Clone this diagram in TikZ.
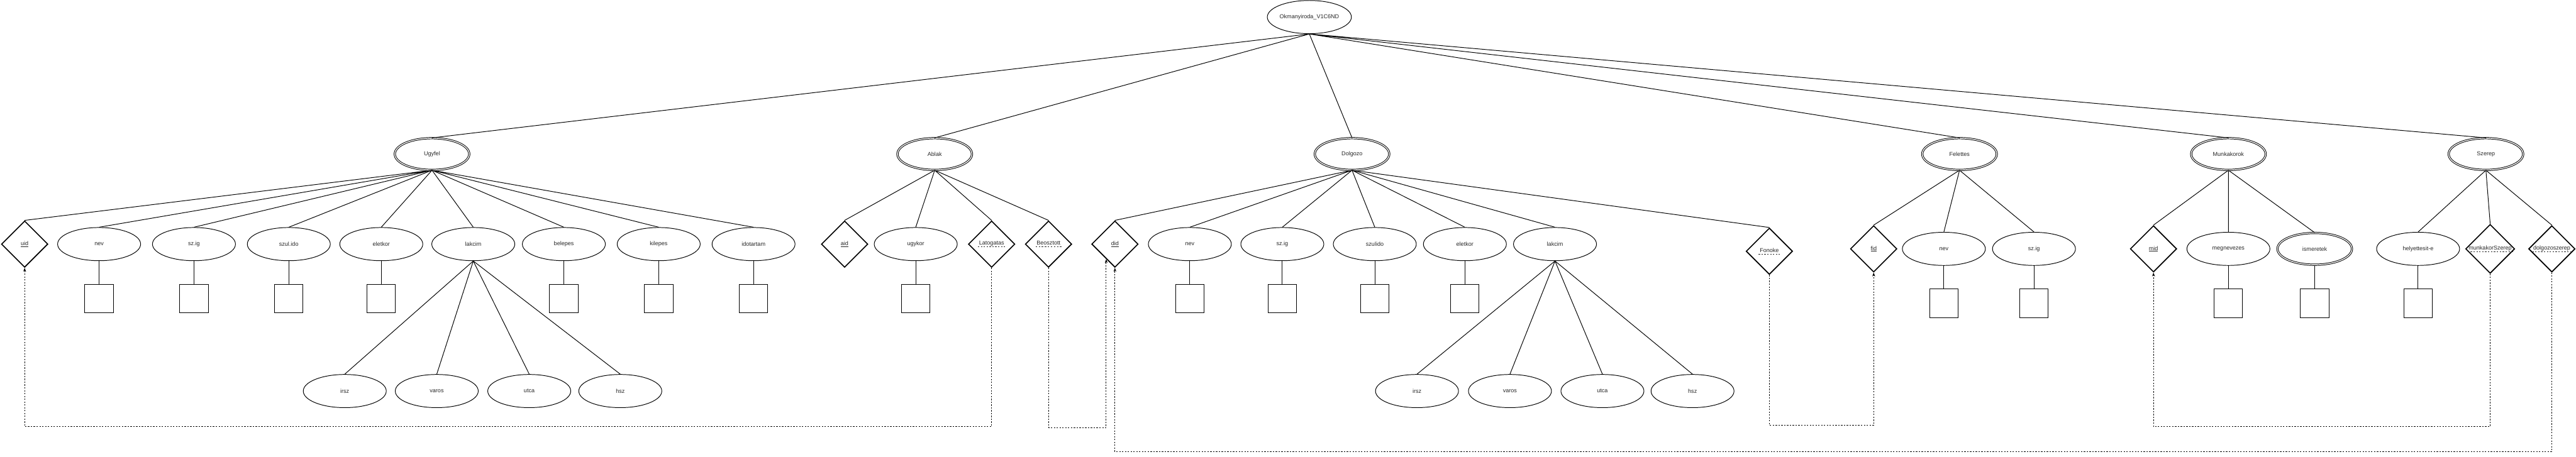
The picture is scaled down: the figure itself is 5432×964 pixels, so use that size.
\documentclass[tikz,border=0pt]{standalone}
\usepackage{fontspec}
\setmainfont{Liberation Sans}
\usetikzlibrary{shapes.geometric,arrows.meta}
\newcommand{\dashkey}[1]{\setbox0=\hbox{\hspace{4pt}#1\hspace{4pt}}\rlap{\raisebox{-4pt}{\hbox to \wd0{\xleaders\hbox to 6pt{\hss\rule{3pt}{1pt}\hss}\hfill}}}\box0}

\begin{document}
\begin{tikzpicture}[x=1pt, y=-1pt, line width=1.3pt,
	every node/.style={font=\fontsize{12pt}{14pt}\selectfont, text=black!85, inner sep=0pt},
	attr/.style={draw, ellipse, minimum width=175pt, minimum height=70pt},
	entity/.style={draw, ellipse, double, double distance=1.8pt, minimum width=157pt, minimum height=67pt},
	keyrel/.style={draw, diamond, line width=2.2pt, minimum width=98pt, minimum height=98pt, inner sep=-2pt},
	typebox/.style={draw, minimum width=60pt, minimum height=60pt},
	fk/.style={dash pattern=on 3pt off 3pt, -{Stealth[length=8pt,width=6pt]}}]
		\useasboundingbox (0,0) rectangle (5432,964);
		\node[attr] (root) at (2761,36) {Okmanyiroda\_V1C6ND};
		\node[entity] (ugyfel) at (911,325) {Ugyfel};
		\node[entity] (ablak) at (1971,325) {Ablak};
		\node[entity] (dolgozo) at (2851,325) {Dolgozo};
		\node[entity] (felettes) at (4132,325) {Felettes};
		\node[entity] (munkakor) at (4699,325) {Munkakorok};
		\node[entity] (szerep) at (5242,325) {Szerep};
		\draw (root.south) -- (ugyfel.north) (root.south) -- (ablak.north) (root.south) -- (dolgozo.north);
		\draw (root.south) -- (felettes.north) (root.south) -- (munkakor.north) (root.south) -- (szerep.north);
		\node[keyrel] (uid) at (52,515) {\underline{uid}};
		\node[attr] (unev) at (209,515) {nev};
		\node[attr] (uszig) at (409,515) {sz.ig};
		\node[attr] (uszul) at (609,515) {szul.ido};
		\node[attr] (ukor) at (804,515) {eletkor};
		\node[attr] (ulak) at (998,515) {lakcim};
		\node[attr] (ube) at (1189,515) {belepes};
		\node[attr] (uki) at (1389,515) {kilepes};
		\node[attr] (uido) at (1589,515) {idotartam};
		\draw (ugyfel.south) -- (uid.north) (ugyfel.south) -- (unev.north) (ugyfel.south) -- (uszig.north);
		\draw (ugyfel.south) -- (uszul.north) (ugyfel.south) -- (ukor.north) (ugyfel.south) -- (ulak.north);
		\draw (ugyfel.south) -- (ube.north) (ugyfel.south) -- (uki.north) (ugyfel.south) -- (uido.north);
		\node[typebox] (unevt) at (209,630) {};
		\node[typebox] (uszigt) at (409,630) {};
		\node[typebox] (uszult) at (609,630) {};
		\node[typebox] (ukort) at (804,630) {};
		\node[typebox] (ubet) at (1189,630) {};
		\node[typebox] (ukit) at (1389,630) {};
		\node[typebox] (uidot) at (1589,630) {};
		\draw (unev) -- (unevt) (uszig) -- (uszigt) (uszul) -- (uszult) (ukor) -- (ukort);
		\draw (ube) -- (ubet) (uki) -- (ukit) (uido) -- (uidot);
		\node[attr] (uirsz) at (727,825) {irsz};
		\node[attr] (uvaros) at (921,825) {varos};
		\node[attr] (uutca) at (1116,825) {utca};
		\node[attr] (uhsz) at (1308,825) {hsz};
		\draw (ulak.south) -- (uirsz.north) (ulak.south) -- (uvaros.north) (ulak.south) -- (uutca.north) (ulak.south) -- (uhsz.north);
		\node[keyrel] (aid) at (1781,515) {\underline{aid}};
		\node[attr] (augy) at (1931,515) {ugykor};
		\node[keyrel] (lat) at (2091,515) {\dashkey{Latogatas}};
		\node[keyrel] (beo) at (2211,515) {\dashkey{Beosztott}};
		\node[typebox] (augyt) at (1931,630) {};
		\draw (ablak.south) -- (aid.north) (ablak.south) -- (augy.north) (ablak.south) -- (lat.north) (ablak.south) -- (beo.north);
		\draw (augy) -- (augyt);
		\node[keyrel] (did) at (2351,515) {\underline{did}};
		\node[attr] (dnev) at (2509,515) {nev};
		\node[attr] (dszig) at (2704,515) {sz.ig};
		\node[attr] (dszul) at (2899,515) {szulido};
		\node[attr] (dkor) at (3089,515) {eletkor};
		\node[attr] (dlak) at (3279,515) {lakcim};
		\node[keyrel] (fonoke) at (3731,530) {\dashkey{Fonoke}};
		\draw (dolgozo.south) -- (did.north) (dolgozo.south) -- (dnev.north) (dolgozo.south) -- (dszig.north);
		\draw (dolgozo.south) -- (dszul.north) (dolgozo.south) -- (dkor.north) (dolgozo.south) -- (dlak.north);
		\draw (dolgozo.south) -- (fonoke.north);
		\node[typebox] (dnevt) at (2509,630) {};
		\node[typebox] (dszigt) at (2704,630) {};
		\node[typebox] (dszult) at (2899,630) {};
		\node[typebox] (dkort) at (3089,630) {};
		\draw (dnev) -- (dnevt) (dszig) -- (dszigt) (dszul) -- (dszult) (dkor) -- (dkort);
		\node[attr] (dirsz) at (2988,825) {irsz};
		\node[attr] (dvaros) at (3184,825) {varos};
		\node[attr] (dutca) at (3379,825) {utca};
		\node[attr] (dhsz) at (3569,825) {hsz};
		\draw (dlak.south) -- (dirsz.north) (dlak.south) -- (dvaros.north) (dlak.south) -- (dutca.north) (dlak.south) -- (dhsz.north);
		\node[keyrel] (fid) at (3951,525) {\underline{fid}};
		\node[attr] (fnev) at (4099,525) {nev};
		\node[attr] (fszig) at (4289,525) {sz.ig};
		\node[typebox] (fnevt) at (4099,640) {};
		\node[typebox] (fszigt) at (4289,640) {};
		\draw (felettes.south) -- (fid.north) (felettes.south) -- (fnev.north) (felettes.south) -- (fszig.north);
		\draw (fnev) -- (fnevt) (fszig) -- (fszigt);
		\node[keyrel] (mid) at (4541,525) {\underline{mid}};
		\node[attr] (mnev) at (4699,525) {megnevezes};
		\node[entity] (mism) at (4881,525) {ismeretek};
		\node[typebox] (mnevt) at (4699,640) {};
		\node[typebox] (mismt) at (4881,640) {};
		\draw (munkakor.south) -- (mid.north) (munkakor.south) -- (mnev.north) (munkakor.south) -- (mism.north);
		\draw (mnev) -- (mnevt) (mism) -- (mismt);
		\node[attr] (hely) at (5099,525) {helyettesit-e};
		\node[keyrel] (msz) at (5251,525) {\dashkey{munkakorSzerep}};
		\node[keyrel] (dsz) at (5381,525) {\dashkey{dolgozoszerep}};
		\node[typebox] (helyt) at (5099,640) {};
		\draw (szerep.south) -- (hely.north) (szerep.south) -- (msz.north) (szerep.south) -- (dsz.north);
		\draw (hely) -- (helyt);
		\coordinate (low) at (0,900);
		\coordinate (lowb) at (0,902);
		\coordinate (lowf) at (0,897);
		\coordinate (lowd) at (0,953);
		\draw[fk] (lat.south) -- (lat.south |- low) -| (uid.south);
		\draw[fk] (beo.south) -- (beo.south |- lowb) -| (did.-120);
		\draw[fk] (dsz.south) -- (dsz.south |- lowd) -| (did.south);
		\draw[fk] (fonoke.south) -- (fonoke.south |- lowf) -| (fid.south);
		\draw[fk] (msz.south) -- (msz.south |- low) -| (mid.south);
	\end{tikzpicture}
\end{document}
